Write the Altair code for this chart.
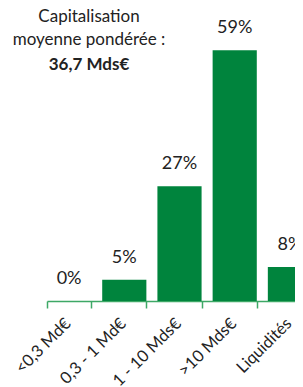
import altair as alt
import pandas as pd

categories = ["<0,3 Md€", "0,3 - 1 Md€", "1 - 10 Mds€", ">10 Mds€", "Liquidités"]
values = [0, 5, 27, 59, 8]
labels = ["0%", "5%", "27%", "59%", "8%"]

note_lines = ["Capitalisation", "moyenne pondérée :", "36,7 Mds€"]
note_weights = ["normal", "normal", "bold"]

GREEN = "#00843D"
AXIS_GREEN = "#3DA866"
FONT = "Lato"

df = pd.DataFrame({"cat": categories, "val": values, "lab": labels})

x = alt.X("cat:N", sort=categories, title=None,
          scale=alt.Scale(range=[0, 265], paddingInner=0.2, paddingOuter=0),
          axis=alt.Axis(labelAngle=-45, labelFontSize=16.5, labelColor="#222222",
                        labelFont=FONT, domainColor=AXIS_GREEN, tickColor=AXIS_GREEN,
                        tickSize=7, tickBand="extent", labelPadding=7, labelOffset=-7,
                        grid=False, domainWidth=1.5, tickWidth=1.5))
y = alt.Y("val:Q", scale=alt.Scale(domain=[0, 60]), axis=None)

base = alt.Chart(df)
bars = base.mark_bar(color=GREEN).encode(x=x, y=y)
text = base.mark_text(dy=-17, baseline="alphabetic", fontSize=18, font=FONT,
                      color="#222222").encode(x=x, y=y, text="lab:N")

notes = []
ys = [-24, -1, 24]
for line, w, yy in zip(note_lines, note_weights, ys):
    notes.append(
        alt.Chart(pd.DataFrame({"t": [line]})).mark_text(
            fontSize=17, font=FONT, fontWeight=w, color="#222222",
            align="center", baseline="alphabetic"
        ).encode(text="t:N", x=alt.value(42), y=alt.value(yy))
    )

chart = alt.layer(bars, text, *notes).properties(
    width=248, height=255,
    autosize=alt.AutoSizeParams(type="none"),
    padding={"left": 39, "top": 38, "right": 0, "bottom": 86},
).configure_view(stroke=None)

chart.save("out.html", embed_options={"renderer": "svg", "actions": False})
